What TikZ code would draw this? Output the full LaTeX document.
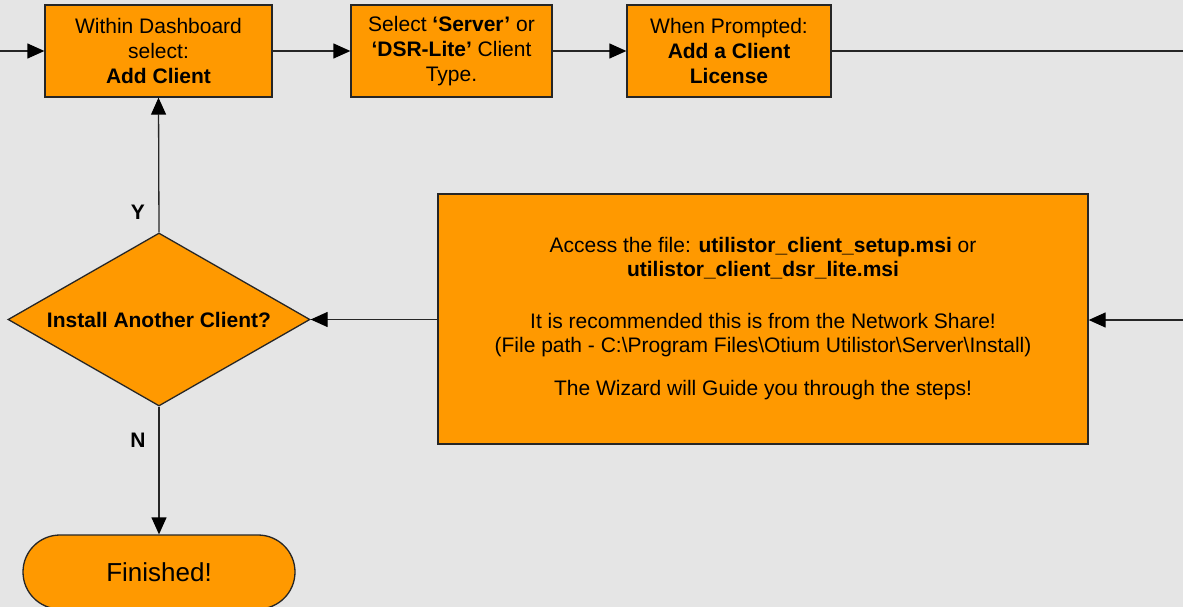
\documentclass[tikz,border=0pt]{standalone}
\usepackage{fontspec}
\setmainfont{Liberation Sans}
\usetikzlibrary{shapes.geometric,arrows.meta}
\definecolor{bgc}{HTML}{E5E5E5}
\definecolor{orangefill}{HTML}{FF9900}
\definecolor{linec}{HTML}{262626}
\begin{document}
\begin{tikzpicture}[x=1pt,y=-1pt,
  box/.style={draw=linec, line width=1.3pt, fill=orangefill, inner sep=0pt, align=center,
    font=\fontsize{21}{25}\selectfont},
  conn/.style={draw=linec, line width=1.3pt},
  arr/.style={conn, -{Triangle[length=17pt,width=15pt,fill=black,color=black]}},
  lbl/.style={font=\fontsize{21}{25}\selectfont\bfseries}]
\useasboundingbox (0,0) rectangle (1183,607);
\clip (0,0) rectangle (1183,607);
\fill[bgc] (0,0) rectangle (1183,607);

% top row boxes
\node[box, minimum width=227pt, minimum height=92pt] (b1) at (158.5,51)
  {Within Dashboard\\select:\\\textbf{Add Client}};
\node[box, minimum width=201pt, minimum height=92pt] (b2) at (451.5,51)
  {Select \textbf{‘Server’} or\\\textbf{‘DSR-Lite’} Client\\Type.};
\node[box, minimum width=204pt, minimum height=92pt] (b3) at (729,51)
  {When Prompted:\\\textbf{Add a Client}\\\textbf{License}};

% big box
\node[box, minimum width=650pt, minimum height=250pt, font=\fontsize{21}{24}\selectfont] (big) at (763,319)
  {Access the file: \textbf{utilistor\_client\_setup.msi} or\\
   \textbf{utilistor\_client\_dsr\_lite.msi}\\[28pt]
   It is recommended this is from the Network Share!\\
   (File path - C:\textbackslash Program Files\textbackslash Otium Utilistor\textbackslash Server\textbackslash Install)\\[19pt]
   The Wizard will Guide you through the steps!};

% decision
\node[box, shape=diamond, aspect=1.746, minimum width=302pt, minimum height=173pt] (dec) at (159,319.5)
  {\textbf{Install Another Client?}};

% terminator
\node[box, rounded corners=37pt, minimum width=272pt, minimum height=74pt,
  font=\fontsize{26}{30}\selectfont] (fin) at (159,572) {Finished!};

% connectors
\coordinate (inL) at (0,51);
\coordinate (outR) at (1183,51);
\coordinate (inR) at (1183,320);
\draw[arr] (inL) -- (b1.west);
\draw[arr] (b1.east) -- (b2.west);
\draw[arr] (b2.east) -- (b3.west);
\draw[conn] (b3.east) -- (outR);
\draw[arr] (inR) -- (big.east |- inR);
\draw[arr] (big.west |- dec.east) -- (dec.east);
\draw[arr] (dec.north) -- (b1.south);
\draw[arr] (dec.south) -- (fin.north);

% labels
\node[lbl] (ly) at (138,212) {Y};
\node[lbl] (ln) at (138,440) {N};
\end{tikzpicture}
\end{document}
